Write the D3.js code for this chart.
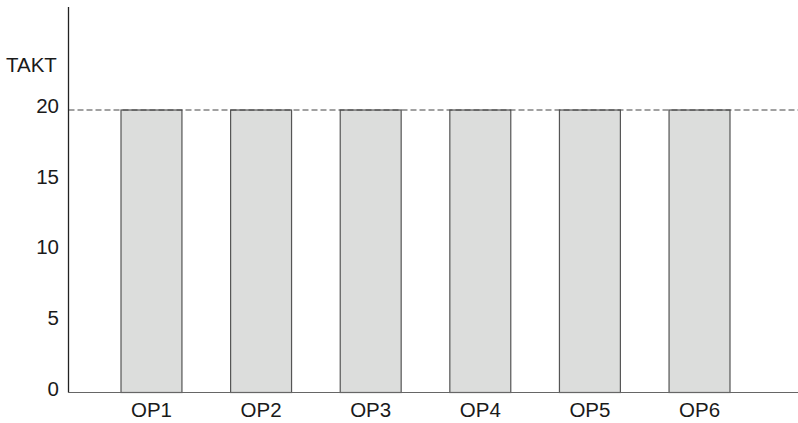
<!DOCTYPE html>
<html><head><meta charset="utf-8">
<script src="https://cdn.jsdelivr.net/npm/d3@7"></script>
<style>body{margin:0;background:#fff}svg{display:block}text{font-family:"Liberation Sans",Arial,Helvetica,sans-serif}</style>
</head><body>
<svg id="c" width="798" height="423"></svg>
<script>
const categories = ["OP1","OP2","OP3","OP4","OP5","OP6"];
const values = [20,20,20,20,20,20];
const taktValue = 20;
const yTicks = [0,5,10,15,20];
const taktLabel = "TAKT";

const svg = d3.select("#c");
const x0 = 68.5, yBase = 392.5;
const fs = 20.5;
const x = d3.scaleBand().domain(categories).range([x0, 782.5]).paddingInner(0.444).paddingOuter(0.479);
const y = d3.scaleLinear().domain([0, 20]).range([yBase, 110]);

// bars
svg.append("g").selectAll("rect").data(values).join("rect")
  .attr("x", (d,i) => x(categories[i]))
  .attr("y", d => y(d))
  .attr("width", x.bandwidth())
  .attr("height", d => y(0) - y(d))
  .attr("fill", "#dcdddc")
  .attr("stroke", "#555")
  .attr("stroke-width", 1.2);

// takt line
svg.append("line")
  .attr("x1", x0).attr("x2", 798)
  .attr("y1", y(taktValue)).attr("y2", y(taktValue))
  .attr("stroke", "#444").attr("stroke-width", 1.2)
  .attr("stroke-dasharray", "6,3");

// baseline
svg.append("line")
  .attr("x1", x0).attr("x2", 798)
  .attr("y1", y(0)).attr("y2", y(0))
  .attr("stroke", "#666").attr("stroke-width", 1.2);

// y axis line
svg.append("line")
  .attr("x1", x0).attr("x2", x0)
  .attr("y1", 7).attr("y2", y(0))
  .attr("stroke", "#222").attr("stroke-width", 1.3);

// y axis labels
const yAxis = d3.axisLeft(y).tickValues(yTicks).tickSize(0).tickPadding(9.5);
const ya = svg.append("g").attr("transform", `translate(${x0},0)`).call(yAxis);
ya.select(".domain").remove();
ya.selectAll("text").attr("font-size", fs).attr("fill", "#1a1a1a").attr("font-family", '"Liberation Sans",Arial,sans-serif').attr("dy", "0.13em");

// x axis labels
const xAxis = d3.axisBottom(x).tickSize(0).tickPadding(10);
const xa = svg.append("g").attr("transform", `translate(0,${yBase})`).call(xAxis);
xa.select(".domain").remove();
xa.selectAll("text").attr("font-size", fs).attr("fill", "#1a1a1a").attr("font-family", '"Liberation Sans",Arial,sans-serif');

// TAKT label
svg.append("text").attr("x", 6).attr("y", 72.3).attr("font-size", fs).attr("fill", "#1a1a1a").text(taktLabel);
</script>
</body></html>
